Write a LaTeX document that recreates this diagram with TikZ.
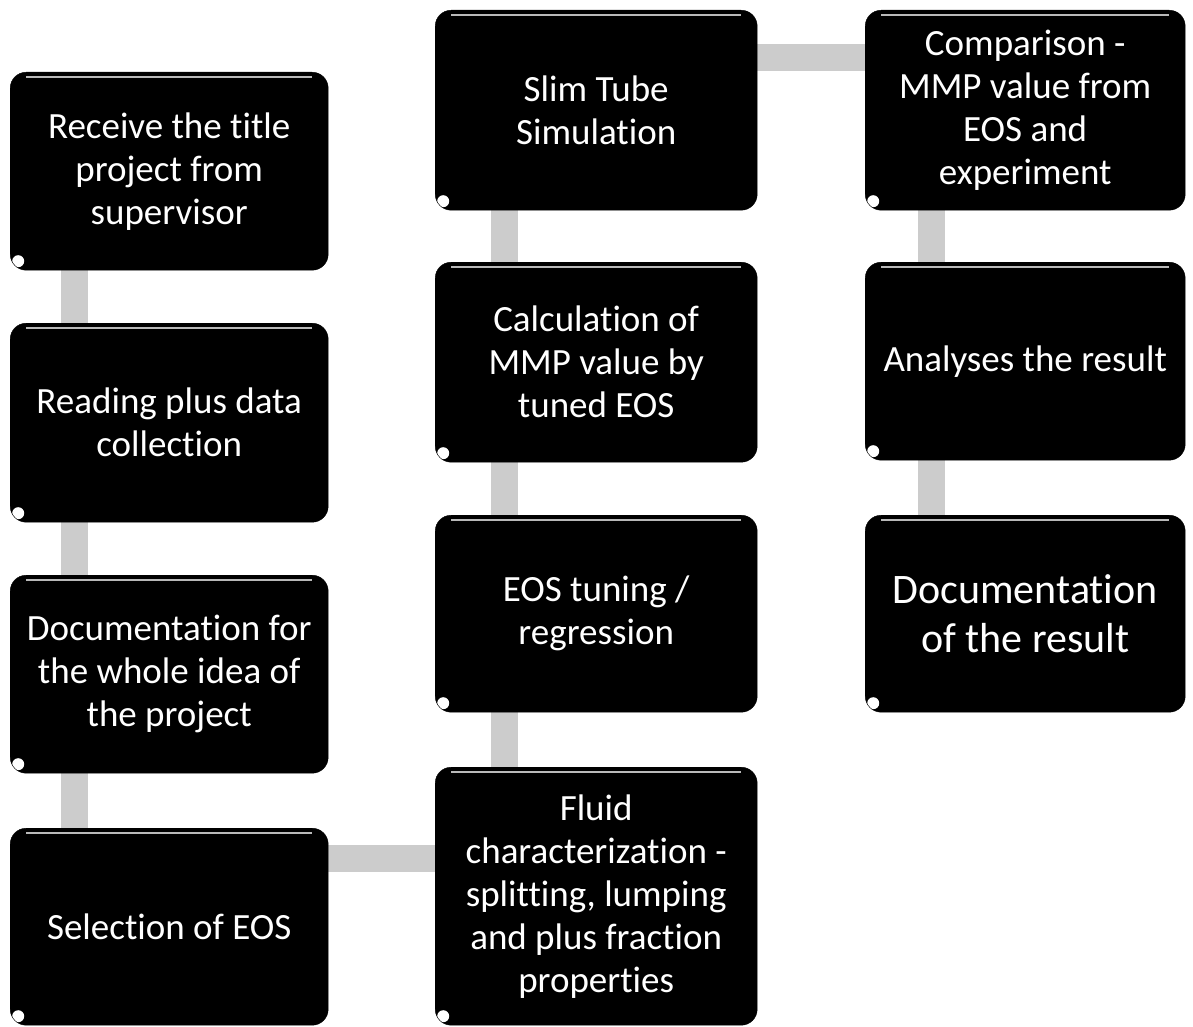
\documentclass[tikz,border=0pt]{standalone}
\usepackage{fontspec}
\newfontfamily\boxfont[Ligatures=NoCommon]{Carlito}
\usetikzlibrary{backgrounds,calc}
\tikzset{
  flowbox/.style={
    fill=black, draw=black, rounded corners=16pt, anchor=north west,
    text=white, align=center, inner sep=0pt,
    font=\boxfont\fontsize{37}{43}\selectfont,
    path picture={
      \fill[white] ([xshift=8pt,yshift=9pt]path picture bounding box.south west) circle (6pt);
      \draw[gray!55,line width=1.6pt] ([xshift=16pt,yshift=-5pt]path picture bounding box.north west) -- ([xshift=-16pt,yshift=-5pt]path picture bounding box.north east);
    }
  },
  bigtext/.style={font=\boxfont\fontsize{42}{49}\selectfont},
  vconn/.style={draw=black!20, line width=27pt},
  hconn/.style={draw=black!20, line width=27pt}
}
\begin{document}
\begin{tikzpicture}[x=1pt,y=-1pt]
\useasboundingbox (0,0) rectangle (1193,1027);
% column 1
\node[flowbox, minimum width=318, minimum height=198] (a1) at (10,72) {Receive the title\\project from\\supervisor};
\node[flowbox, minimum width=318, minimum height=199] (a2) at (10,323) {Reading plus data\\collection};
\node[flowbox, minimum width=318, minimum height=198] (a3) at (10,575) {Documentation for\\the whole idea of\\the project};
\node[flowbox, minimum width=318, minimum height=197] (a4) at (10,828) {Selection of EOS};
% column 2
\node[flowbox, minimum width=322, minimum height=200] (b1) at (435,10) {Slim Tube\\Simulation};
\node[flowbox, minimum width=322, minimum height=200] (b2) at (435,262) {Calculation of\\MMP value by\\tuned EOS};
\node[flowbox, minimum width=322, minimum height=197] (b3) at (435,515) {EOS tuning /\\regression};
\node[flowbox, minimum width=322, minimum height=258] (b4) at (435,767) {Fluid\\characterization -\\splitting, lumping\\and plus fraction\\properties};
% column 3
\node[flowbox, minimum width=320, minimum height=200] (c1) at (865,10) {Comparison -\\MMP value from\\EOS and\\experiment};
\node[flowbox, minimum width=320, minimum height=198] (c2) at (865,262) {Analyses the result};
\node[flowbox, bigtext, minimum width=320, minimum height=197] (c3) at (865,515) {Documentation\\of the result};
\begin{scope}[on background layer]
  \draw[vconn] ([xshift=64pt]a1.south west) -- ([xshift=64pt]a2.north west);
  \draw[vconn] ([xshift=64pt]a2.south west) -- ([xshift=64pt]a3.north west);
  \draw[vconn] ([xshift=64pt]a3.south west) -- ([xshift=64pt]a4.north west);
  \draw[hconn] ([yshift=-30pt]a4.north east) -- ([yshift=-30pt]a4.north east -| b4.west);
  \draw[vconn] ([xshift=69pt]b4.north west) -- ([xshift=69pt]b3.south west);
  \draw[vconn] ([xshift=69pt]b3.north west) -- ([xshift=69pt]b2.south west);
  \draw[vconn] ([xshift=69pt]b2.north west) -- ([xshift=69pt]b1.south west);
  \draw[hconn] ([yshift=-48pt]b1.north east) -- ([yshift=-48pt]b1.north east -| c1.west);
  \draw[vconn] ([xshift=66pt]c1.south west) -- ([xshift=66pt]c2.north west);
  \draw[vconn] ([xshift=66pt]c2.south west) -- ([xshift=66pt]c3.north west);
\end{scope}
\end{tikzpicture}
\end{document}
